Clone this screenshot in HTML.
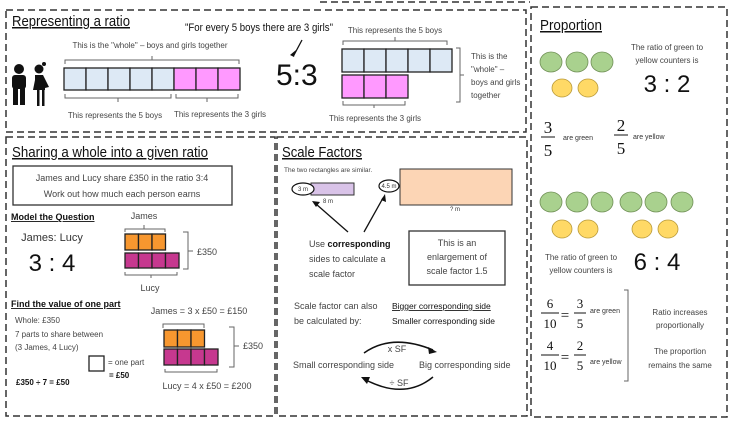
<!DOCTYPE html>
<html><head><meta charset="utf-8"><style>
body{margin:0;background:#fff}
svg{display:block}
text{font-family:"Liberation Sans",sans-serif;fill:#333}
.t{font-size:8px;fill:#444}
.h{font-size:15px;fill:#111;text-decoration:underline}
.s{font-size:9px;fill:#444}
.m{font-family:"Liberation Serif",serif;fill:#111}
.d{fill:none;stroke:#333;stroke-width:1.5;stroke-dasharray:7 4}
.br{fill:none;stroke:#666;stroke-width:1}
</style></head><body>
<svg width="732" height="428" viewBox="0 0 732 428" xmlns="http://www.w3.org/2000/svg">
<line x1="320" y1="2" x2="530" y2="2" class="d"/>
<rect x="6" y="10" width="520" height="122" class="d"/>
<rect x="6" y="137" width="269" height="279" class="d"/>
<rect x="277" y="137" width="250" height="279" class="d"/>
<rect x="531" y="7" width="196" height="410" class="d"/>

<!-- Representing a ratio -->
<text x="12" y="26" class="h" textLength="118" lengthAdjust="spacingAndGlyphs">Representing a ratio</text>
<text x="185" y="31" style="font-size:11px;fill:#111" textLength="148" lengthAdjust="spacingAndGlyphs">"For every 5 boys there are 3 girls"</text>
<line x1="302" y1="40" x2="294" y2="55" stroke="#111" stroke-width="1.3"/>
<path d="M290,55 L296,50 L294,57Z" fill="#111"/>
<text x="276" y="85" style="font-size:30px;fill:#111">5:3</text>
<text x="150" y="48" class="t" text-anchor="middle">This is the "whole" – boys and girls together</text>
<path d="M65,64 v-4 h174 v4 M152,60 v-4" class="br"/>
<g stroke="#222" stroke-width="1.3">
<rect x="64" y="68" width="22" height="22" fill="#dde9f5"/><rect x="86" y="68" width="22" height="22" fill="#dde9f5"/><rect x="108" y="68" width="22" height="22" fill="#dde9f5"/><rect x="130" y="68" width="22" height="22" fill="#dde9f5"/><rect x="152" y="68" width="22" height="22" fill="#dde9f5"/>
<rect x="174" y="68" width="22" height="22" fill="#ff99ff"/><rect x="196" y="68" width="22" height="22" fill="#ff99ff"/><rect x="218" y="68" width="22" height="22" fill="#ff99ff"/>
</g>
<path d="M65,94 v4 h106 v-4 M118,98 v4 M176,94 v4 h62 v-4 M207,98 v4" class="br"/>
<text x="115" y="118" class="t" text-anchor="middle">This represents the 5 boys</text>
<text x="220" y="117" class="t" text-anchor="middle">This represents the 3 girls</text>
<g fill="#111">
<circle cx="19" cy="69" r="5"/><rect x="12" y="75" width="14" height="14" rx="3"/><rect x="13" y="88" width="5" height="17"/><rect x="20" y="88" width="5" height="17"/>
<circle cx="39" cy="69" r="4.5"/><circle cx="44" cy="64" r="2"/><path d="M35,75 h8 l6,12 l-4,1 l0,2 h-12 l2,-10z"/><rect x="37" y="90" width="2.5" height="16"/><rect x="42" y="90" width="2.5" height="16"/>
</g>
<text x="395" y="33" class="t" text-anchor="middle">This represents the 5 boys</text>
<path d="M343,45 v-4 h104 v4 M395,41 v-4" class="br"/>
<g stroke="#222" stroke-width="1.3">
<rect x="342" y="49" width="22" height="23" fill="#dde9f5"/><rect x="364" y="49" width="22" height="23" fill="#dde9f5"/><rect x="386" y="49" width="22" height="23" fill="#dde9f5"/><rect x="408" y="49" width="22" height="23" fill="#dde9f5"/><rect x="430" y="49" width="22" height="23" fill="#dde9f5"/>
<rect x="342" y="75" width="22" height="23" fill="#ff99ff"/><rect x="364" y="75" width="22" height="23" fill="#ff99ff"/><rect x="386" y="75" width="22" height="23" fill="#ff99ff"/>
</g>
<path d="M456,48 h4 v54 h-4 M460,75 h4" class="br"/>
<text x="471" y="59" class="t">This is the</text><text x="471" y="72" class="t">"whole" –</text><text x="471" y="85" class="t">boys and girls</text><text x="471" y="98" class="t">together</text>
<path d="M343,101 v4 h62 v-4 M374,105 v3" class="br"/>
<text x="375" y="121" class="t" text-anchor="middle">This represents the 3 girls</text>

<!-- Sharing -->
<text x="12" y="157" class="h" textLength="196" lengthAdjust="spacingAndGlyphs">Sharing a whole into a given ratio</text>
<rect x="13" y="166" width="219" height="39" fill="none" stroke="#333" stroke-width="1.3"/>
<text x="122" y="181" class="s" text-anchor="middle">James and Lucy share £350 in the ratio 3:4</text>
<text x="122" y="197" class="s" text-anchor="middle">Work out how much each person earns</text>
<text x="11" y="220" style="font-size:9px;fill:#111;text-decoration:underline;font-weight:bold">Model the Question</text>
<text x="52" y="241" style="font-size:11px" text-anchor="middle">James: Lucy</text>
<text x="52" y="271" style="font-size:24px;fill:#111" text-anchor="middle">3 : 4</text>
<text x="144" y="219" class="s" text-anchor="middle">James</text>
<path d="M125,232 v-3 h40 v3 M144,229 v-4" class="br"/>
<g stroke="#222" stroke-width="1.3">
<rect x="125" y="234" width="13.5" height="16" fill="#f7972f"/><rect x="138.5" y="234" width="13.5" height="16" fill="#f7972f"/><rect x="152" y="234" width="13.5" height="16" fill="#f7972f"/>
<rect x="125" y="253" width="13.5" height="15" fill="#c6388f"/><rect x="138.5" y="253" width="13.5" height="15" fill="#c6388f"/><rect x="152" y="253" width="13.5" height="15" fill="#c6388f"/><rect x="165.5" y="253" width="13.5" height="15" fill="#c6388f"/>
</g>
<path d="M183,232 h5 v37 h-5 M188,251 h5" class="br"/>
<text x="197" y="255" class="s">£350</text>
<path d="M125,272 v3 h52 v-3 M151,275 v3" class="br"/>
<text x="150" y="291" class="s" text-anchor="middle">Lucy</text>
<text x="11" y="307" style="font-size:9px;fill:#111;text-decoration:underline;font-weight:bold">Find the value of one part</text>
<text x="15" y="323" class="t">Whole: £350</text>
<text x="15" y="337" class="t">7 parts to share between</text>
<text x="15" y="350" class="t">(3 James, 4 Lucy)</text>
<rect x="89" y="356" width="15" height="15" fill="none" stroke="#222" stroke-width="1.3"/>
<text x="108" y="365" class="t">= one part</text>
<text x="109" y="378" style="font-size:8px;fill:#111;font-weight:bold">= £50</text>
<text x="16" y="385" style="font-size:8px;fill:#111;font-weight:bold">£350 ÷ 7 = £50</text>
<text x="199" y="314" class="s" text-anchor="middle">James = 3 x £50 = £150</text>
<path d="M163,328 v-4 h41 v4" class="br"/>
<g stroke="#222" stroke-width="1.3">
<rect x="164" y="330" width="13.5" height="17" fill="#f7972f"/><rect x="177.5" y="330" width="13.5" height="17" fill="#f7972f"/><rect x="191" y="330" width="13.5" height="17" fill="#f7972f"/>
<rect x="164" y="349" width="13.5" height="16" fill="#c6388f"/><rect x="177.5" y="349" width="13.5" height="16" fill="#c6388f"/><rect x="191" y="349" width="13.5" height="16" fill="#c6388f"/><rect x="204.5" y="349" width="13.5" height="16" fill="#c6388f"/>
</g>
<path d="M229,327 h5 v40 h-5 M234,346 h5" class="br"/>
<text x="243" y="349" class="s">£350</text>
<path d="M165,369 v3 h52 v-3" class="br"/>
<text x="207" y="389" class="s" text-anchor="middle">Lucy = 4 x £50 = £200</text>

<!-- Scale factors -->
<text x="282" y="157" class="h" textLength="80" lengthAdjust="spacingAndGlyphs">Scale Factors</text>
<text x="284" y="172" style="font-size:6.5px;fill:#444">The two rectangles are similar.</text>
<rect x="311" y="183" width="43" height="12" fill="#d9c3e8" stroke="#333"/>
<ellipse cx="303" cy="189" rx="11" ry="6" fill="#fff" stroke="#111" stroke-width="1.2"/>
<text x="303" y="191" style="font-size:6px" text-anchor="middle">3 m</text>
<text x="328" y="203" style="font-size:6px" text-anchor="middle">8 m</text>
<rect x="400" y="169" width="112" height="36" fill="#fcd5b5" stroke="#333"/>
<ellipse cx="389" cy="186" rx="10" ry="6" fill="#fff" stroke="#111" stroke-width="1.2"/>
<text x="389" y="188" style="font-size:6px" text-anchor="middle">4.5 m</text>
<text x="455" y="211" style="font-size:6px" text-anchor="middle">? m</text>
<g stroke="#111" stroke-width="1.3"><line x1="348" y1="232" x2="316" y2="204"/><line x1="364" y1="232" x2="383" y2="198"/></g>
<path d="M312,201 l8,1 l-4,5z M385,194 l1,8 l-5,-2z" fill="#111"/>
<text x="309" y="247" class="s">Use <tspan style="fill:#111;font-weight:bold">corresponding</tspan></text>
<text x="309" y="262" class="s">sides to calculate a</text>
<text x="309" y="277" class="s">scale factor</text>
<rect x="409" y="231" width="96" height="54" fill="none" stroke="#333" stroke-width="1.3"/>
<text x="457" y="246" class="s" text-anchor="middle">This is an</text>
<text x="457" y="260" class="s" text-anchor="middle">enlargement of</text>
<text x="457" y="274" class="s" text-anchor="middle">scale factor 1.5</text>
<text x="294" y="309" class="s">Scale factor can also</text>
<text x="294" y="324" class="s">be calculated by:</text>
<text x="392" y="309" style="font-size:8.5px;fill:#111;text-decoration:underline">Bigger corresponding side</text>
<text x="392" y="324" style="font-size:8.5px;fill:#111">Smaller corresponding side</text>
<path d="M364,353 Q392,333 433,350" fill="none" stroke="#111" stroke-width="1.5"/>
<path d="M437,352 l-9,-5 l1,7z" fill="#111"/>
<path d="M433,377 Q405,400 366,380" fill="none" stroke="#111" stroke-width="1.5"/>
<path d="M361,377 l9,0 l-3,7z" fill="#111"/>
<text x="397" y="352" class="s" text-anchor="middle">x SF</text>
<text x="293" y="368" class="s">Small corresponding side</text>
<text x="419" y="368" class="s">Big corresponding side</text>
<text x="399" y="386" class="s" text-anchor="middle">÷ SF</text>

<!-- Proportion -->
<text x="540" y="30" class="h" textLength="62" lengthAdjust="spacingAndGlyphs">Proportion</text>
<g stroke="#6f8f55" stroke-width="0.8" fill="#a9d18e">
<ellipse cx="551" cy="62" rx="11" ry="10"/><ellipse cx="577" cy="62" rx="11" ry="10"/><ellipse cx="602" cy="62" rx="11" ry="10"/>
<ellipse cx="551" cy="202" rx="11" ry="10"/><ellipse cx="577" cy="202" rx="11" ry="10"/><ellipse cx="602" cy="202" rx="11" ry="10"/>
<ellipse cx="631" cy="202" rx="11" ry="10"/><ellipse cx="656" cy="202" rx="11" ry="10"/><ellipse cx="682" cy="202" rx="11" ry="10"/>
</g>
<g stroke="#b99a3a" stroke-width="0.8" fill="#ffd966">
<ellipse cx="562" cy="88" rx="10" ry="9"/><ellipse cx="588" cy="88" rx="10" ry="9"/>
<ellipse cx="562" cy="229" rx="10" ry="9"/><ellipse cx="588" cy="229" rx="10" ry="9"/>
<ellipse cx="642" cy="229" rx="10" ry="9"/><ellipse cx="668" cy="229" rx="10" ry="9"/>
</g>
<text x="667" y="50" class="t" text-anchor="middle">The ratio of green to</text>
<text x="667" y="63" class="t" text-anchor="middle">yellow counters is</text>
<text x="667" y="92" style="font-size:24px;fill:#111" text-anchor="middle">3 : 2</text>
<g style="font-size:17px" text-anchor="middle">
<text x="548" y="133" class="m">3</text><text x="548" y="156" class="m">5</text>
<text x="621" y="131" class="m">2</text><text x="621" y="154" class="m">5</text>
</g>
<line x1="541" y1="137" x2="555" y2="137" stroke="#111"/><line x1="614" y1="135" x2="628" y2="135" stroke="#111"/>
<text x="563" y="140" style="font-size:7px">are green</text>
<text x="633" y="139" style="font-size:7px">are yellow</text>
<text x="581" y="260" class="t" text-anchor="middle">The ratio of green to</text>
<text x="581" y="273" class="t" text-anchor="middle">yellow counters is</text>
<text x="657" y="270" style="font-size:24px;fill:#111" text-anchor="middle">6 : 4</text>
<g style="font-size:13px" text-anchor="middle">
<text x="550" y="308" class="m">6</text><text x="550" y="328" class="m">10</text>
<text x="580" y="308" class="m">3</text><text x="580" y="328" class="m">5</text>
<text x="550" y="350" class="m">4</text><text x="550" y="370" class="m">10</text>
<text x="580" y="350" class="m">2</text><text x="580" y="370" class="m">5</text>
<text x="565" y="320" class="m" style="font-size:15px">=</text>
<text x="565" y="362" class="m" style="font-size:15px">=</text>
</g>
<g stroke="#111"><line x1="541" y1="313" x2="559" y2="313"/><line x1="574" y1="313" x2="586" y2="313"/><line x1="541" y1="355" x2="559" y2="355"/><line x1="574" y1="355" x2="586" y2="355"/></g>
<text x="590" y="313" style="font-size:7px">are green</text>
<text x="590" y="364" style="font-size:7px">are yellow</text>
<path d="M624,290 h4 v91 h-4" class="br"/>
<text x="680" y="315" class="t" text-anchor="middle">Ratio increases</text>
<text x="680" y="328" class="t" text-anchor="middle">proportionally</text>
<text x="680" y="354" class="t" text-anchor="middle">The proportion</text>
<text x="680" y="368" class="t" text-anchor="middle">remains the same</text>
</svg>
</body></html>
